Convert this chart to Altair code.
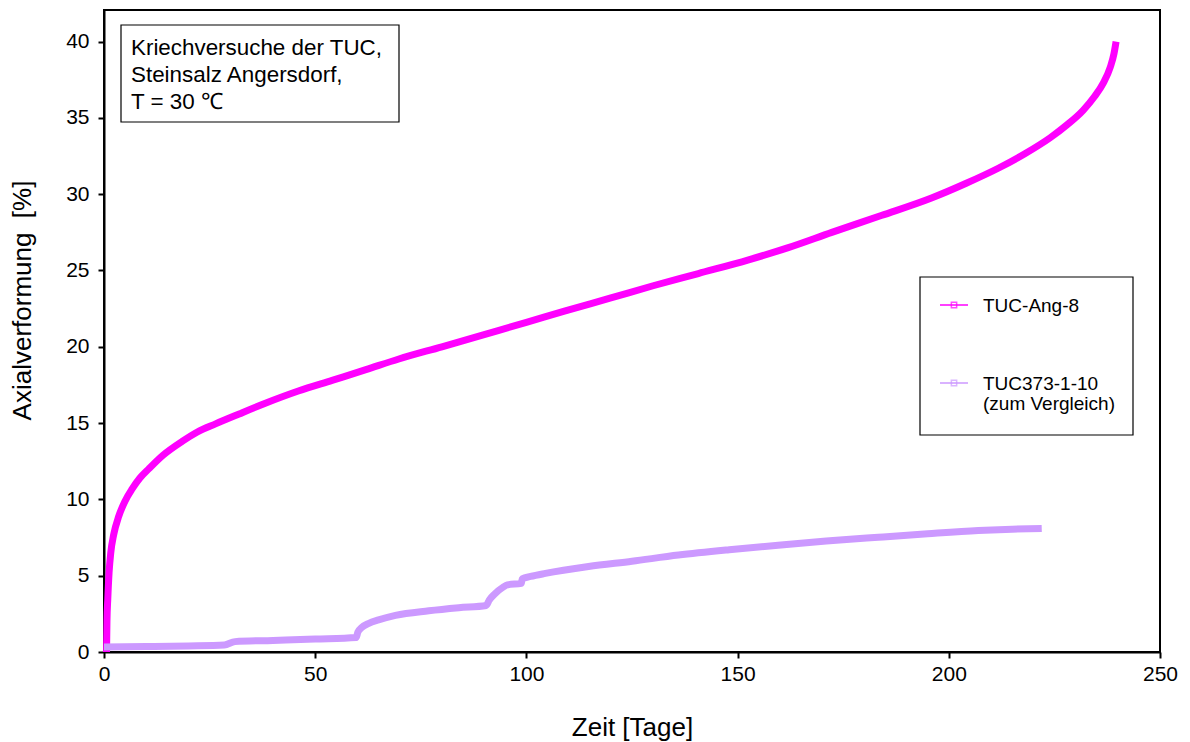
import altair as alt
import pandas as pd

# ---- data ----
ang8_days = [0.6, 0.7, 0.9, 1.2, 1.6, 2.3, 3.5, 5, 6.7, 8.5, 10.6, 14, 18.5, 22, 26.4, 32,
             38.2, 46, 54, 62, 69.8, 80, 90, 100, 109.2, 120, 130, 140.7, 152.6, 162, 172.3,
             184, 195.9, 204, 211.7, 218, 224.0, 228, 231.8, 234.5, 236.6, 238.2, 239.1, 239.6]
ang8_vals = [0, 2, 3.5, 5.2, 6.5, 7.7, 8.9, 9.9, 10.7, 11.4, 12.0, 12.9, 13.8, 14.4, 14.95, 15.6,
             16.3, 17.1, 17.8, 18.5, 19.2, 20.0, 20.8, 21.6, 22.35, 23.2, 24.0, 24.8, 25.7, 26.5, 27.5,
             28.6, 29.75, 30.7, 31.7, 32.65, 33.7, 34.55, 35.5, 36.4, 37.3, 38.3, 39.2, 40.0]

tuc373_days = [0, 10, 20, 28.5, 31, 40, 50, 59.7, 60.1, 61, 62.7, 65, 69, 76.9, 84, 90.5, 91.2,
               92.5, 94.5, 95.5, 98.8, 99.0, 101, 104.5, 114.7, 125, 136, 148, 159.6, 171, 183.3,
               195, 207, 215, 222]
tuc373_vals = [0.33, 0.36, 0.4, 0.46, 0.68, 0.76, 0.85, 0.95, 1.3, 1.6, 1.88, 2.1, 2.4, 2.7, 2.9,
               3.05, 3.4, 3.8, 4.25, 4.4, 4.5, 4.8, 4.95, 5.15, 5.6, 5.95, 6.35, 6.7, 7.0, 7.27, 7.52,
               7.75, 7.96, 8.05, 8.1]

series_names = ["TUC-Ang-8", "TUC373-1-10"]
legend_lines = [["TUC-Ang-8"], ["TUC373-1-10", "(zum Vergleich)"]]
series_colors = ["#FF00FF", "#CC99FF"]
note_lines = ["Kriechversuche der TUC,", "Steinsalz Angersdorf,", "T = 30 \u2103"]
x_ticks = [0, 50, 100, 150, 200, 250]
y_ticks = [0, 5, 10, 15, 20, 25, 30, 35, 40]

FONT = "Liberation Sans"

df_a = pd.DataFrame({"Zeit": ang8_days, "Wert": ang8_vals, "Serie": series_names[0]})
df_b = pd.DataFrame({"Zeit": tuc373_days, "Wert": tuc373_vals, "Serie": series_names[1]})

xs = alt.Scale(domain=[0, 250], nice=False, zero=False)
ys = alt.Scale(domain=[0, 42.07], nice=False)

xax = alt.Axis(values=x_ticks, title="Zeit [Tage]", grid=False, domainColor="black",
               domainWidth=2, tickColor="black", tickWidth=2, tickSize=6, labelFontSize=21,
               labelFont=FONT, labelColor="black", labelPadding=5, labelFlush=False,
               titleFont=FONT, titleFontSize=26, titleFontWeight="normal", titleColor="black",
               titlePadding=30)
yax = alt.Axis(values=y_ticks, title="Axialverformung\u00a0\u00a0[%]", grid=False,
               domainColor="black", domainWidth=2, tickColor="black", tickWidth=2, tickSize=6,
               labelFontSize=21, labelFont=FONT, labelColor="black", labelPadding=9,
               labelFlush=False, titleFont=FONT, titleFontSize=26, titleFontWeight="normal",
               titleColor="black", titleX=-82, titleY=290, titleBaseline="middle",
               titleAlign="center", titleAngle=270)


def line_layer(df, color):
    return alt.Chart(df).mark_line(strokeWidth=7, color=color, strokeCap="butt",
                                   strokeJoin="round", interpolate="monotone").encode(
        x=alt.X("Zeit:Q", scale=xs, axis=xax),
        y=alt.Y("Wert:Q", scale=ys, axis=yax),
    )


one = alt.Data(values=[{}])

# annotation box
note_box = alt.Chart(one).mark_rect(fill="white", stroke="black", strokeWidth=1.2).encode(
    x=alt.value(17), x2=alt.value(295), y=alt.value(15), y2=alt.value(112))
note_text = alt.Chart(one).mark_text(align="left", baseline="alphabetic", font=FONT,
                                     fontSize=22.4, lineHeight=27, color="black").encode(
    x=alt.value(27), y=alt.value(45), text=alt.value(note_lines))

# legend
leg_box = alt.Chart(one).mark_rect(fill="white", stroke="black", strokeWidth=1.2).encode(
    x=alt.value(816), x2=alt.value(1029), y=alt.value(267), y2=alt.value(425))
leg_layers = [leg_box]
for i, (lines, col) in enumerate(zip(legend_lines, series_colors)):
    yy = 295 + i * 78
    leg_layers.append(alt.Chart(one).mark_rule(color=col, strokeWidth=1.5).encode(
        x=alt.value(836), x2=alt.value(864), y=alt.value(yy)))
    leg_layers.append(alt.Chart(one).mark_point(shape="square", filled=False, color=col,
                                                size=28, strokeWidth=1.5).encode(
        x=alt.value(850), y=alt.value(yy)))
    leg_layers.append(alt.Chart(one).mark_text(align="left", baseline="middle", font=FONT,
                                               fontSize=19, lineHeight=20, color="black").encode(
        x=alt.value(879), y=alt.value(yy + 1), text=alt.value(lines if len(lines) > 1 else lines[0])))

chart = alt.layer(
    line_layer(df_a, series_colors[0]),
    line_layer(df_b, series_colors[1]),
    note_box, note_text, *leg_layers,
).properties(
    width=1056, height=642,
    background="white",
    autosize=alt.AutoSizeParams(type="none"),
    padding={"left": 104, "top": 10, "right": 30, "bottom": 90},
).configure_view(stroke="black", strokeWidth=2)

chart.save("out.html", embed_options={"renderer": "svg", "actions": False})
